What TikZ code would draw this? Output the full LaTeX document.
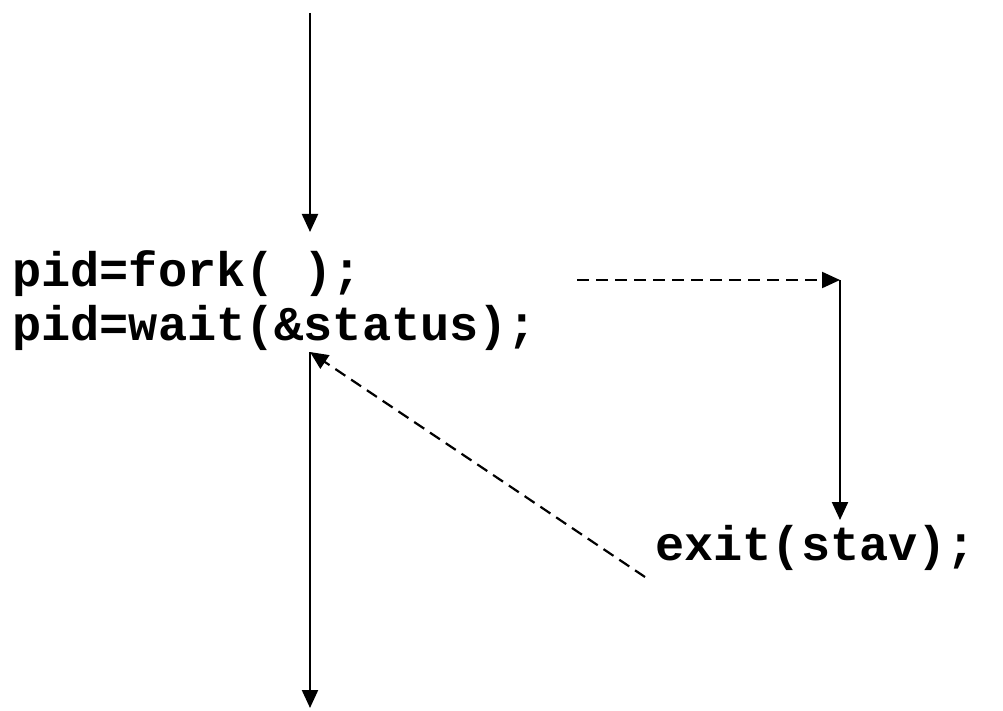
\documentclass[tikz,border=0pt]{standalone}
\usepackage{fontspec}
\setmonofont{Liberation Mono}
\usetikzlibrary{arrows.meta}
\begin{document}
\begin{tikzpicture}[x=1pt,y=-1pt,
  code/.style={font=\ttfamily\bfseries\fontsize{48.6}{49}\selectfont, inner sep=0pt, anchor=base west},
  conn/.style={line width=2.2pt, -{Triangle[length=18pt,width=16pt]}},
  dconn/.style={conn, dash pattern=on 12pt off 7pt}]
\useasboundingbox (0,0) rectangle (1003,711);
\node[code] (fork) at (12,286) {pid=fork( );};
\node[code] (wait) at (12,340) {pid=wait(\&status);};
\node[code] (exit) at (655,560) {exit(stav);};
\coordinate (top) at (310,13);
\coordinate (forkin) at (310,232);
\coordinate (forkout) at (577,280);
\coordinate (child) at (840,280);
\coordinate (exitin) at (840,520);
\coordinate (exitout) at (645,577);
\coordinate (waitin) at (310,352);
\coordinate (bottom) at (310,708);
\draw[conn] (top) -- (forkin);
\draw[dconn] (forkout) -- (child);
\draw[conn] (child) -- (exitin);
\draw[dconn] (exitout) -- (waitin);
\draw[conn] (waitin) -- (bottom);
\end{tikzpicture}
\end{document}
